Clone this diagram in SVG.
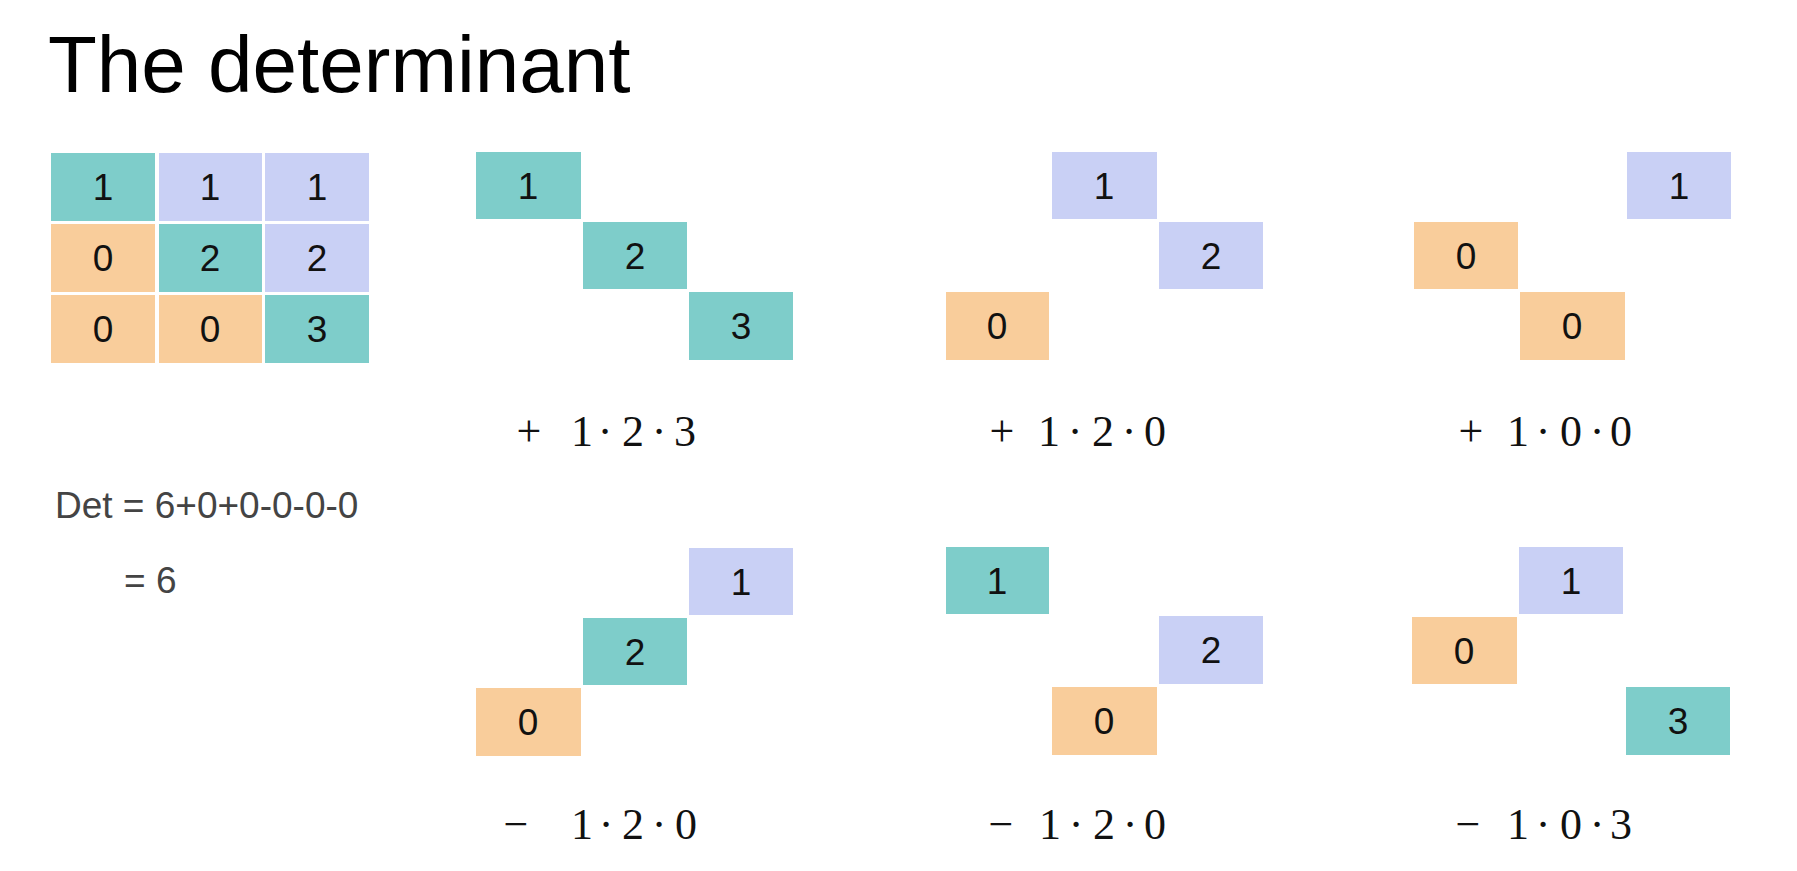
<svg xmlns="http://www.w3.org/2000/svg" width="1797" height="871" viewBox="0 0 1797 871">
<style>
.t{fill:#7ECDCA}.l{fill:#C9D0F5}.o{fill:#F9CD9B}
.d{font-family:"Liberation Sans",Arial,sans-serif;font-size:37px;fill:#111;text-anchor:middle}
.m{font-family:"Liberation Serif","Times New Roman",serif;font-size:44px;fill:#111;text-anchor:middle}
.g{font-family:"Liberation Sans",Arial,sans-serif;font-size:37px;fill:#444}
</style>
<rect width="1797" height="871" fill="#fff"/>
<text id="title" x="48" y="92" font-family="Liberation Sans, Arial, sans-serif" font-size="80" fill="#000">The determinant</text>

<g id="matrix">
<rect class="t" x="51" y="153" width="104" height="68"/><text class="d" x="103" y="200">1</text>
<rect class="l" x="159" y="153" width="103" height="68"/><text class="d" x="210" y="200">1</text>
<rect class="l" x="265" y="153" width="104" height="68"/><text class="d" x="317" y="200">1</text>
<rect class="o" x="51" y="224" width="104" height="68"/><text class="d" x="103" y="271">0</text>
<rect class="t" x="159" y="224" width="103" height="68"/><text class="d" x="210" y="271">2</text>
<rect class="l" x="265" y="224" width="104" height="68"/><text class="d" x="317" y="271">2</text>
<rect class="o" x="51" y="295" width="104" height="68"/><text class="d" x="103" y="342">0</text>
<rect class="o" x="159" y="295" width="103" height="68"/><text class="d" x="210" y="342">0</text>
<rect class="t" x="265" y="295" width="104" height="68"/><text class="d" x="317" y="342">3</text>
</g>

<g id="det">
<text class="g" x="55" y="518">Det = 6+0+0-0-0-0</text>
<text class="g" x="124" y="593">= 6</text>
</g>

<g id="term1">
<rect class="t" x="476" y="152" width="105" height="67"/><text class="d" x="528" y="199">1</text>
<rect class="t" x="583" y="222" width="104" height="67"/><text class="d" x="635" y="269">2</text>
<rect class="t" x="689" y="292" width="104" height="68"/><text class="d" x="741" y="339">3</text>
<text class="m" x="529 582 605 633 659 685" y="446">+1·2·3</text>
</g>

<g id="term2">
<rect class="l" x="1052" y="152" width="105" height="67"/><text class="d" x="1104" y="199">1</text>
<rect class="l" x="1159" y="222" width="104" height="67"/><text class="d" x="1211" y="269">2</text>
<rect class="o" x="946" y="292" width="103" height="68"/><text class="d" x="997" y="339">0</text>
<text class="m" x="1002 1049 1075 1103 1129 1155" y="446">+1·2·0</text>
</g>

<g id="term3">
<rect class="l" x="1627" y="152" width="104" height="67"/><text class="d" x="1679" y="199">1</text>
<rect class="o" x="1414" y="222" width="104" height="67"/><text class="d" x="1466" y="269">0</text>
<rect class="o" x="1520" y="292" width="105" height="68"/><text class="d" x="1572" y="339">0</text>
<text class="m" x="1471 1518 1543 1571 1597 1621" y="446">+1·0·0</text>
</g>

<g id="term4">
<rect class="l" x="689" y="548" width="104" height="67"/><text class="d" x="741" y="595">1</text>
<rect class="t" x="583" y="618" width="104" height="67"/><text class="d" x="635" y="665">2</text>
<rect class="o" x="476" y="688" width="105" height="68"/><text class="d" x="528" y="735">0</text>
<text class="m" x="516 582 606 633 659 686" y="839">−1·2·0</text>
</g>

<g id="term5">
<rect class="t" x="946" y="547" width="103" height="67"/><text class="d" x="997" y="594">1</text>
<rect class="l" x="1159" y="616" width="104" height="68"/><text class="d" x="1211" y="663">2</text>
<rect class="o" x="1052" y="687" width="105" height="68"/><text class="d" x="1104" y="734">0</text>
<text class="m" x="1001 1050 1076 1104 1130 1155" y="839">−1·2·0</text>
</g>

<g id="term6">
<rect class="l" x="1519" y="547" width="104" height="67"/><text class="d" x="1571" y="594">1</text>
<rect class="o" x="1412" y="617" width="105" height="67"/><text class="d" x="1464" y="664">0</text>
<rect class="t" x="1626" y="687" width="104" height="68"/><text class="d" x="1678" y="734">3</text>
<text class="m" x="1468 1518 1543 1571 1597 1621" y="839">−1·0·3</text>
</g>
</svg>
